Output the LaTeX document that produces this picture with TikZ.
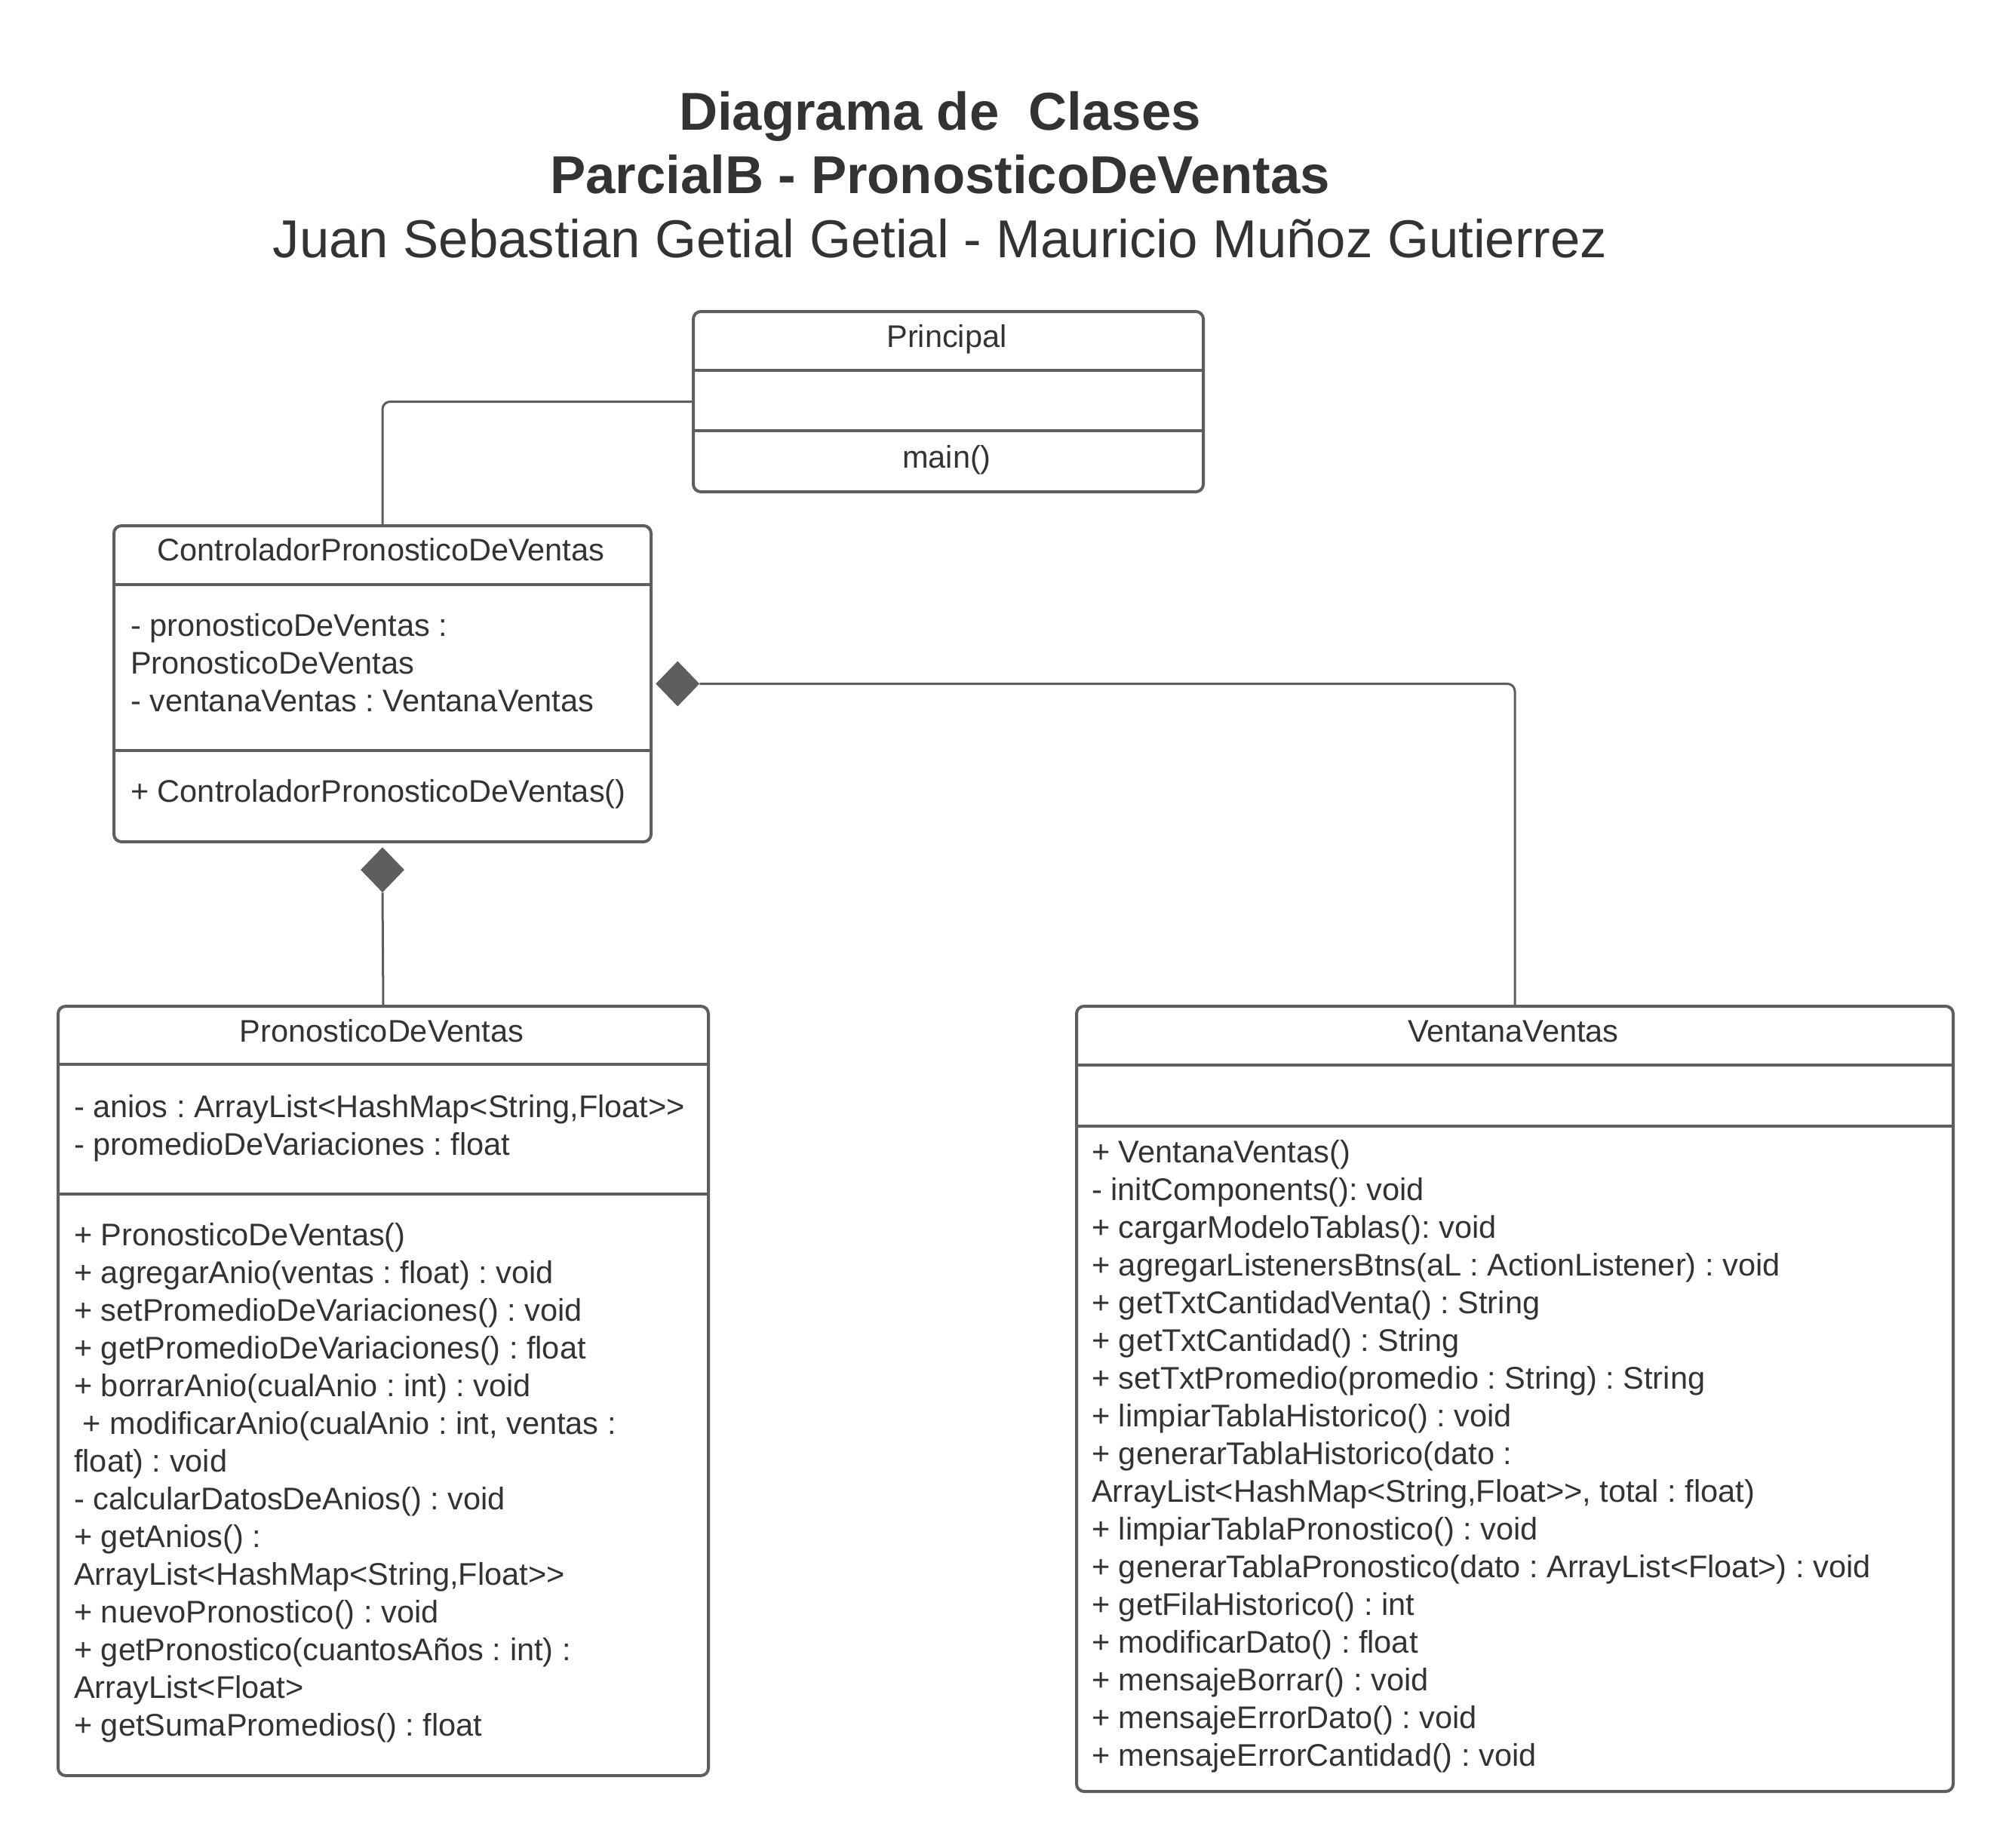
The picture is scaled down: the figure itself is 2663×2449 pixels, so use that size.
\documentclass[tikz,border=0pt]{standalone}
\usepackage{fontspec}
\setmainfont{Liberation Sans}
\frenchspacing
\usetikzlibrary{shapes.geometric,calc}
\definecolor{lc}{HTML}{5E5E5E}
\definecolor{tc}{HTML}{333333}
\tikzset{
  umlbox/.style={draw=lc, line width=4pt, rounded corners=10pt, fill=white, inner sep=0pt, anchor=north west},
  divl/.style={draw=lc, line width=4pt},
  conn/.style={draw=lc, line width=3pt, rounded corners=10pt},
  txt/.style={inner sep=0pt, text=tc, font=\fontsize{41.5}{50}\selectfont\frenchspacing, anchor=base west},
  ctxt/.style={txt, anchor=base},
  ttlb/.style={inner sep=0pt, text=tc, font=\fontsize{70.7}{84}\selectfont\bfseries, anchor=base},
  ttlr/.style={inner sep=0pt, text=tc, font=\fontsize{70.7}{84}\selectfont, anchor=base},
  comp/.style={diamond, draw=none, fill=lc, inner sep=0pt, minimum width=58pt, minimum height=60pt}
}
\begin{document}
\begin{tikzpicture}[x=1pt,y=-1pt]
\useasboundingbox (0,0) rectangle (2663,2449);

% Title
\node[ttlb] (t1) at (1246,172) {Diagrama de\ \ Clases};
\node[ttlb] (t2) at (1246,256) {ParcialB - PronosticoDeVentas};
\node[ttlr] (t3) at (1246,341) {Juan Sebastian Getial Getial - Mauricio Muñoz Gutierrez};

% Boxes
\node[umlbox, minimum width=676pt, minimum height=239pt] (principal) at (917,411) {};
\node[umlbox, minimum width=712pt, minimum height=419pt] (ctrl) at (149,695) {};
\node[umlbox, minimum width=862pt, minimum height=1020pt] (pron) at (75,1332) {};
\node[umlbox, minimum width=1162pt, minimum height=1041pt] (vent) at (1425,1332) {};

% Dividers
\draw[divl] (principal.west |- 0,491) -- (principal.east |- 0,491);
\draw[divl] (principal.west |- 0,571) -- (principal.east |- 0,571);
\draw[divl] (ctrl.west |- 0,775) -- (ctrl.east |- 0,775);
\draw[divl] (ctrl.west |- 0,995) -- (ctrl.east |- 0,995);
\draw[divl] (pron.west |- 0,1411) -- (pron.east |- 0,1411);
\draw[divl] (pron.west |- 0,1583) -- (pron.east |- 0,1583);
\draw[divl] (vent.west |- 0,1412) -- (vent.east |- 0,1412);
\draw[divl] (vent.west |- 0,1493) -- (vent.east |- 0,1493);

% Principal texts
\node[ctxt] (pT) at (1255,460) {Principal};
\node[ctxt] (pM) at (1255,620) {main()};

% Controlador texts
\node[ctxt] (cT) at (505,743) {ControladorPronosticoDeVentas};
\node[txt] (cA1) at (173,843) {- pronosticoDeVentas :};
\node[txt] (cA2) at (173,893) {PronosticoDeVentas};
\node[txt] (cA3) at (173,943) {- ventanaVentas : VentanaVentas};
\node[txt] (cM1) at (173,1063) {+ ControladorPronosticoDeVentas()};

% Pronostico texts
\node[ctxt] (prT) at (506,1381) {PronosticoDeVentas};
\node[txt] (prA1) at (98,1481) {- anios : ArrayList<HashMap<String,Float>{}>};
\node[txt] (prA2) at (98,1531) {- promedioDeVariaciones : float};
\foreach \t [count=\i] in {
  {+ PronosticoDeVentas()},
  {+ agregarAnio(ventas : float) : void},
  {+ setPromedioDeVariaciones() : void},
  {+ getPromedioDeVariaciones() : float},
  {+ borrarAnio(cualAnio : int) : void},
  {\ + modificarAnio(cualAnio : int, ventas :},
  {float) : void},
  {- calcularDatosDeAnios() : void},
  {+ getAnios() :},
  {ArrayList<HashMap<String,Float>{}>},
  {+ nuevoPronostico() : void},
  {+ getPronostico(cuantosAños : int) :},
  {ArrayList<Float>},
  {+ getSumaPromedios() : float}}
  \node[txt] (prM\i) at (98,{1651+50*(\i-1)}) {\t};

% Ventana texts
\node[ctxt] (vT) at (2006,1381) {VentanaVentas};
\foreach \t [count=\i] in {
  {+ VentanaVentas()},
  {- initComponents(): void},
  {+ cargarModeloTablas(): void},
  {+ agregarListenersBtns(aL : ActionListener) : void},
  {+ getTxtCantidadVenta() : String},
  {+ getTxtCantidad() : String},
  {+ setTxtPromedio(promedio : String) : String},
  {+ limpiarTablaHistorico() : void},
  {+ generarTablaHistorico(dato :},
  {ArrayList<HashMap<String,Float>{}>, total : float)},
  {+ limpiarTablaPronostico() : void},
  {+ generarTablaPronostico(dato : ArrayList<Float>) : void},
  {+ getFilaHistorico() : int},
  {+ modificarDato() : float},
  {+ mensajeBorrar() : void},
  {+ mensajeErrorDato() : void},
  {+ mensajeErrorCantidad() : void}}
  \node[txt] (vM\i) at (1447,{1541+50*(\i-1)}) {\t};

% Connectors
\draw[conn] (principal.west) -| (ctrl.north);
\node[comp, anchor=west] (d1) at ([xshift=4pt]ctrl.east) {};
\draw[conn] (d1.east) -| (vent.north);
\node[comp, anchor=north] (d2) at ([yshift=-5pt]ctrl.south) {};
\draw[conn] (d2.south) -- (pron.north);
\end{tikzpicture}
\end{document}
